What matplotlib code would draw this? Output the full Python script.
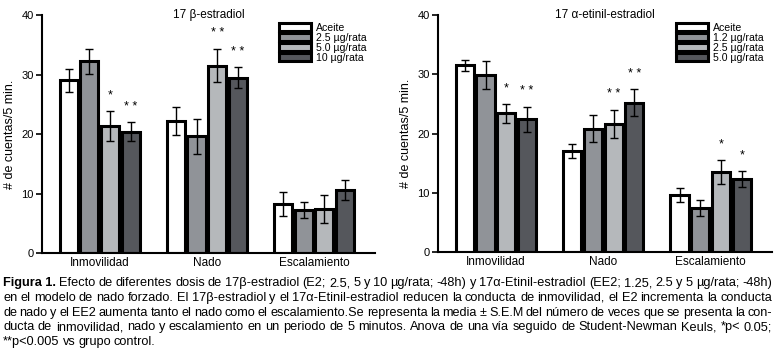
import numpy as np
import matplotlib.pyplot as plt

plt.rcParams['font.family'] = ['Liberation Sans', 'DejaVu Sans']

categorias = ['Inmovilidad', 'Nado', 'Escalamiento']

# 17 beta-estradiol
e2_labels = ['Aceite', '2.5 µg/rata', '5.0 µg/rata', '10 µg/rata']
e2_media = [[29.0, 22.2, 8.3],
            [32.2, 19.6, 7.2],
            [21.4, 31.5, 7.4],
            [20.4, 29.5, 10.6]]
e2_sem = [[2.0, 2.3, 2.0],
          [2.1, 2.9, 1.3],
          [2.5, 2.8, 2.4],
          [1.6, 1.7, 1.7]]
e2_sig = [['', '', ''],
          ['', '', ''],
          ['*', '* *', ''],
          ['* *', '* *', '']]

# 17 alfa-etinil-estradiol
ee2_labels = ['Aceite', '1.2 µg/rata', '2.5 µg/rata', '5.0 µg/rata']
ee2_media = [[31.5, 17.1, 9.6],
             [29.9, 20.8, 7.4],
             [23.4, 21.6, 13.5],
             [22.4, 25.2, 12.3]]
ee2_sem = [[0.9, 1.2, 1.2],
           [2.4, 2.3, 1.4],
           [1.6, 2.4, 2.0],
           [2.1, 2.3, 1.4]]
ee2_sig = [['', '', ''],
           ['', '', ''],
           ['*', '* *', '*'],
           ['* *', '* *', '*']]

colores = ['white', '#909398', '#b5b8bb', '#55575c']

caption = [
    'Efecto de diferentes dosis de 17β-estradiol (E2; 2.5, 5 y 10 µg/rata; -48h) y 17α-Etinil-estradiol (EE2; 1.25, 2.5 y 5 µg/rata; -48h)',
    'en el modelo de nado forzado. El 17β-estradiol y el 17α-Etinil-estradiol reducen la conducta de inmovilidad, el E2 incrementa la conducta',
    'de nado y el EE2 aumenta tanto el nado como el escalamiento.Se representa la media ± S.E.M del número de veces que se presenta la con-',
    'ducta de inmovilidad, nado y escalamiento en un periodo de 5 minutos. Anova de una vía seguido de Student-Newman Keuls, *p< 0.05;',
    '**p<0.005 vs grupo control.',
]


def panel(ax, titulo, labels, media, sem, sig):
    x = np.arange(len(categorias))
    w = 0.17
    step = 0.193
    for i in range(4):
        xi = x + (i - 1.5) * step
        ax.bar(xi, media[i], w, color=colores[i], edgecolor='black',
               linewidth=2.2, label=labels[i], zorder=2)
        ax.errorbar(xi, media[i], yerr=sem[i], fmt='none', ecolor='black',
                    elinewidth=1, capsize=3, capthick=1, zorder=3)
        for j in range(len(categorias)):
            if sig[i][j]:
                ax.text(xi[j], media[i][j] + sem[i][j] + 2.6, sig[i][j],
                        ha='center', va='center', fontsize=9)
    ax.set_xlim(-0.54, 2.57)
    ax.set_ylim(0, 40)
    ax.set_yticks([0, 10, 20, 30, 40])
    ax.set_xticks(x)
    ax.set_xticklabels(categorias, fontsize=8.5)
    ax.tick_params(axis='x', length=0, pad=3)
    ax.tick_params(axis='y', length=4, width=1.2, labelsize=8, pad=2)
    for s in ['top', 'right']:
        ax.spines[s].set_visible(False)
    ax.spines['left'].set_linewidth(1.5)
    ax.spines['bottom'].set_linewidth(1.5)
    ax.set_ylabel('# de cuentas/5 min.', fontsize=9, labelpad=4)
    ax.text(0.5, 1.0, titulo, transform=ax.transAxes, ha='center', va='center', fontsize=8.5)
    ax.legend(loc='upper left', bbox_to_anchor=(0.70, 0.985), frameon=False,
              fontsize=7.6, handlelength=3.0, handleheight=0.7, labelspacing=0.0,
              handletextpad=0.5, borderaxespad=0)


fig = plt.figure(figsize=(7.75, 3.5), dpi=100)
ax1 = fig.add_axes([0.054, 0.277, 0.43, 0.68])
ax2 = fig.add_axes([0.565, 0.28, 0.431, 0.677])
panel(ax1, '17 β-estradiol', e2_labels, e2_media, e2_sem, e2_sig)
panel(ax2, '17 α-etinil-estradiol', ee2_labels, ee2_media, ee2_sem, ee2_sig)

# pie de figura, justificado a mano
renderer = fig.canvas.get_renderer()
W = 775.0
x_left, x_right = 3.0, 772.0
fs = 9.2
min_gap = 2.8
y0 = 350 - 286
dy = 14.8
for k, line in enumerate(caption):
    y = (y0 - k * dy) / 350.0
    items = []
    if k == 0:
        items.append(('Figura 1.', 'bold'))
    for wd in line.split(' '):
        items.append((wd, 'normal'))
    texts = []
    widths = []
    for s, weight in items:
        t = fig.text(0, y, s, fontsize=fs, fontweight=weight, va='baseline', ha='left')
        texts.append(t)
        widths.append(t.get_window_extent(renderer).width)
    if k < len(caption) - 1:
        gap = (x_right - x_left - sum(widths)) / (len(items) - 1)
    else:
        gap = 3.0
    if gap < min_gap:
        gap = min_gap
        scale = (x_right - x_left - gap * (len(items) - 1)) / sum(widths)
        for t in texts:
            t.set_fontsize(fs * scale)
        widths = [t.get_window_extent(renderer).width for t in texts]
        gap = (x_right - x_left - sum(widths)) / (len(items) - 1)
    xpos = x_left
    for t, wdt in zip(texts, widths):
        t.set_x(xpos / W)
        xpos += wdt + gap

fig.savefig('out.png', dpi=100)
